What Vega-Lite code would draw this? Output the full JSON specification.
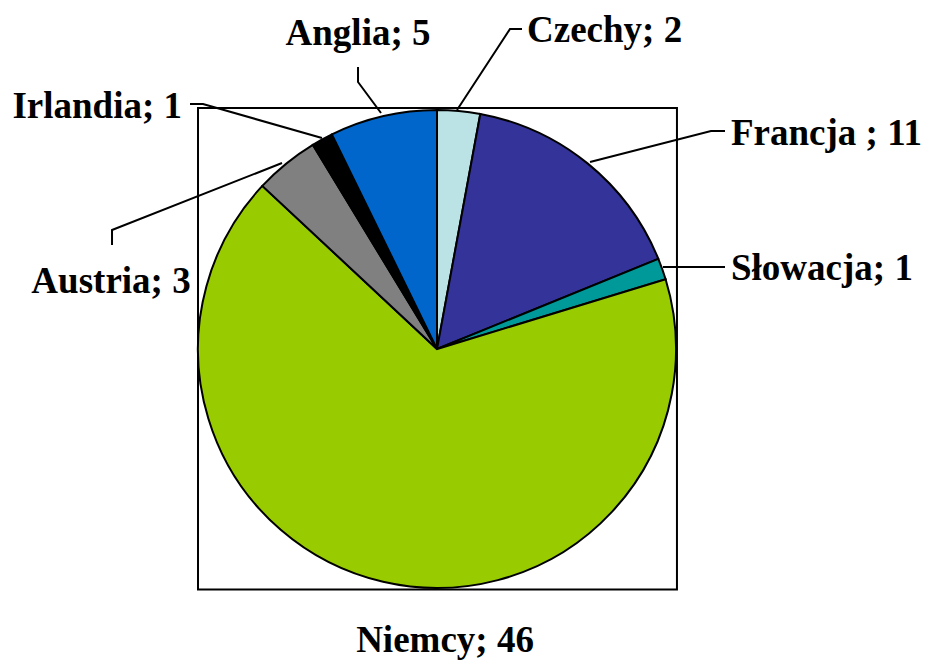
{
  "$schema": "https://vega.github.io/schema/vega-lite/v6.json",
  "width": 927,
  "height": 661,
  "padding": 0,
  "autosize": {"type": "none"},
  "background": "white",
  "config": {"view": {"stroke": null}},
  "datasets": {
    "slices": [
      {"n": 1, "category": "Czechy", "value": 2, "label": "Czechy; 2", "lx": 0.3766, "ly": 1.2845},
      {"n": 2, "category": "Francja", "value": 11, "label": "Francja ; 11", "lx": 1.2301, "ly": 0.8536},
      {"n": 3, "category": "Słowacja", "value": 1, "label": "Słowacja; 1", "lx": 1.2301, "ly": 0.2887},
      {"n": 4, "category": "Niemcy", "value": 46, "label": "Niemcy; 46", "lx": 0.0335, "ly": -1.2678},
      {"n": 5, "category": "Austria", "value": 3, "label": "Austria; 3", "lx": -1.364, "ly": 0.2343},
      {"n": 6, "category": "Irlandia", "value": 1, "label": "Irlandia; 1", "lx": -1.0669, "ly": 0.9665},
      {"n": 7, "category": "Anglia", "value": 5, "label": "Anglia; 5", "lx": -0.3305, "ly": 1.272}
    ],
    "leaders": [
      {"category": "Czechy", "i": 1, "x": 0.0837, "y": 1.0},
      {"category": "Czechy", "i": 2, "x": 0.3054, "y": 1.3389},
      {"category": "Czechy", "i": 3, "x": 0.3556, "y": 1.3389},
      {"category": "Anglia", "i": 1, "x": -0.2343, "y": 0.9874},
      {"category": "Anglia", "i": 2, "x": -0.3305, "y": 1.1172},
      {"category": "Anglia", "i": 3, "x": -0.3305, "y": 1.1799},
      {"category": "Irlandia", "i": 1, "x": -0.4812, "y": 0.8828},
      {"category": "Irlandia", "i": 2, "x": -0.9791, "y": 1.0251},
      {"category": "Irlandia", "i": 3, "x": -1.0335, "y": 1.0251},
      {"category": "Austria", "i": 1, "x": -0.6485, "y": 0.7782},
      {"category": "Austria", "i": 2, "x": -1.3598, "y": 0.4979},
      {"category": "Austria", "i": 3, "x": -1.3598, "y": 0.4351},
      {"category": "Francja", "i": 1, "x": 0.6402, "y": 0.7824},
      {"category": "Francja", "i": 2, "x": 1.1464, "y": 0.9121},
      {"category": "Francja", "i": 3, "x": 1.205, "y": 0.9121},
      {"category": "Słowacja", "i": 1, "x": 0.9456, "y": 0.3431},
      {"category": "Słowacja", "i": 2, "x": 1.205, "y": 0.3431}
    ]
  },
  "layer": [
    {
      "data": {"values": [{}]},
      "mark": {"type": "rect", "fill": null, "stroke": "black", "strokeWidth": 2},
      "encoding": {
        "x": {"datum": -1, "type": "quantitative", "scale": {"domain": [-1.8285, 2.0502], "nice": false, "zero": false}, "axis": null},
        "x2": {"datum": 1.004},
        "y": {"datum": -1.006, "type": "quantitative", "scale": {"domain": [-1.3054, 1.4603], "nice": false, "zero": false}, "axis": null},
        "y2": {"datum": 1.008}
      }
    },
    {
      "data": {"name": "slices"},
      "mark": {"type": "arc", "outerRadius": 239, "stroke": "black", "strokeWidth": 2},
      "encoding": {
        "x": {"datum": 0, "type": "quantitative"},
        "y": {"datum": 0, "type": "quantitative"},
        "theta": {"field": "value", "type": "quantitative", "stack": true},
        "order": {"field": "n", "type": "quantitative"},
        "color": {
          "field": "category",
          "type": "nominal",
          "scale": {
            "domain": ["Czechy", "Francja", "Słowacja", "Niemcy", "Austria", "Irlandia", "Anglia"],
            "range": ["#BBE2E5", "#333399", "#009999", "#99CC00", "#808080", "#000000", "#0066CC"]
          },
          "legend": null
        }
      }
    },
    {
      "data": {"name": "leaders"},
      "mark": {"type": "line", "color": "black", "strokeWidth": 2},
      "encoding": {
        "x": {"field": "x", "type": "quantitative"},
        "y": {"field": "y", "type": "quantitative"},
        "detail": {"field": "category"},
        "order": {"field": "i", "type": "quantitative"}
      }
    },
    {
      "data": {"name": "slices"},
      "transform": [{"filter": {"field": "category", "oneOf": ["Czechy", "Francja", "Słowacja"]}}],
      "mark": {"type": "text", "align": "left", "baseline": "alphabetic", "font": "Liberation Serif", "fontWeight": "bold", "fontSize": 37, "color": "black"},
      "encoding": {
        "x": {"field": "lx", "type": "quantitative"},
        "y": {"field": "ly", "type": "quantitative"},
        "text": {"field": "label"}
      }
    },
    {
      "data": {"name": "slices"},
      "transform": [{"filter": {"field": "category", "oneOf": ["Anglia", "Austria", "Niemcy"]}}],
      "mark": {"type": "text", "align": "center", "baseline": "alphabetic", "font": "Liberation Serif", "fontWeight": "bold", "fontSize": 37, "color": "black"},
      "encoding": {
        "x": {"field": "lx", "type": "quantitative"},
        "y": {"field": "ly", "type": "quantitative"},
        "text": {"field": "label"}
      }
    },
    {
      "data": {"name": "slices"},
      "transform": [{"filter": {"field": "category", "oneOf": ["Irlandia"]}}],
      "mark": {"type": "text", "align": "right", "baseline": "alphabetic", "font": "Liberation Serif", "fontWeight": "bold", "fontSize": 37, "color": "black"},
      "encoding": {
        "x": {"field": "lx", "type": "quantitative"},
        "y": {"field": "ly", "type": "quantitative"},
        "text": {"field": "label"}
      }
    }
  ]
}
